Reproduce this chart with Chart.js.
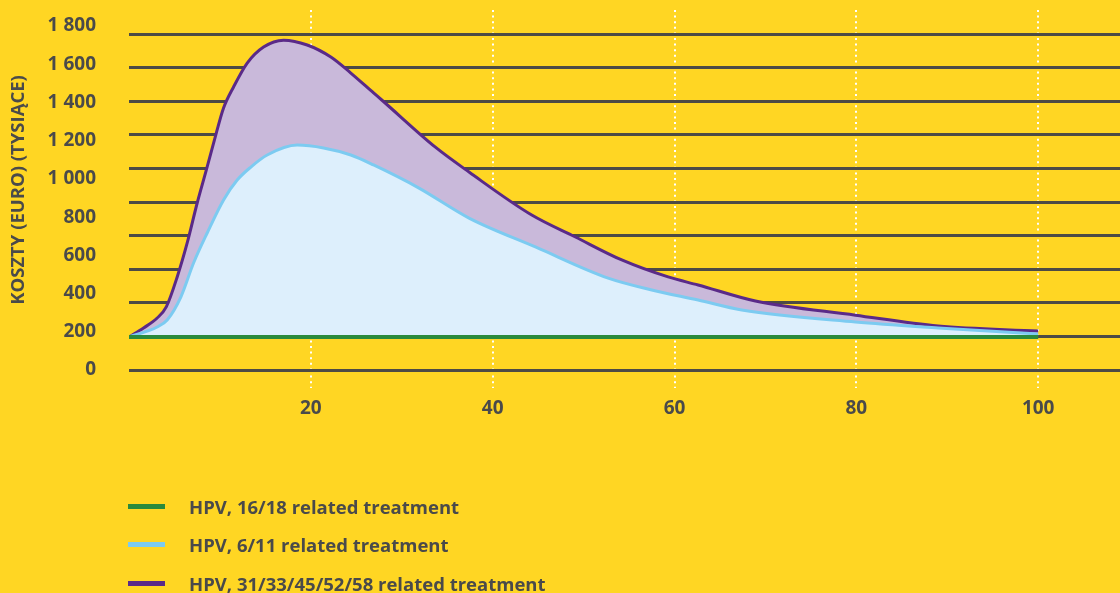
<!DOCTYPE html>
<html>
<head>
<meta charset="utf-8">
<script src="https://cdn.jsdelivr.net/npm/chart.js@4"></script>
<style>
  html, body { margin: 0; padding: 0; background: #FFD623; }
  #wrap { position: relative; width: 1120px; height: 593px; overflow: hidden; }
  #legend { position: absolute; left: 128px; top: 487px; font: 700 18.5px "Open Sans"; color: #4a4a4a; }
  .item { height: 38.5px; display: flex; align-items: center; white-space: nowrap; }
  .swatch { width: 37px; height: 5px; margin-right: 24px; }
</style>
</head>
<body>
<div id="wrap">
  <canvas id="myChart" width="1120" height="593"></canvas>
  <div id="legend"></div>
</div>
<script>
// values (age in years, cost in thousands of euro)
var greenAges = [0, 100];
var hpv1618 = [173, 173];

var blueAges = [0, 3.1, 4.2, 5.7, 7.1, 8.6, 10.4, 11.9, 13.4, 15.2, 18.5, 21.4, 24.4, 26.9, 31.9, 37.4, 44.7, 52.7, 57.5, 62.6, 67.4, 79.9, 89, 100];
var hpv611 = [173, 225, 262, 382, 560, 717, 890, 994, 1062, 1125, 1177, 1162, 1125, 1073, 952, 795, 644, 481, 419, 366, 314, 251, 220, 188];

var purpleAges = [0, 1.6, 3.1, 4.1, 5.3, 6.4, 7.5, 8.5, 9.6, 10.4, 11.5, 13, 14.8, 17, 19.6, 22.2, 24.4, 26.9, 27.8, 33.7, 37.4, 44.3, 49.1, 54.2, 59.3, 62.6, 68.9, 79.9, 89, 100];
var hpvOther = [173, 220, 272, 330, 487, 665, 874, 1046, 1240, 1371, 1481, 1606, 1690, 1726, 1701, 1638, 1554, 1450, 1413, 1166, 1036, 811, 696, 576, 487, 445, 361, 287, 230, 204];

var labels = ['HPV, 16/18 related treatment', 'HPV, 6/11 related treatment', 'HPV, 31/33/45/52/58 related treatment'];
var costTicks = ['0', '200', '400', '600', '800', '1 000', '1 200', '1 400', '1 600', '1 800'];
var ageTicks = [20, 40, 60, 80, 100];

var textColor = '#4a4a4a';

function pts(xs, ys) {
  return xs.map(function (x, i) { return { x: x, y: ys[i] }; });
}

// keep the plot area where the reference has it
function noPad(s) {
  s.paddingTop = 0;
  s.paddingBottom = 0;
}

var ctx = document.getElementById('myChart');
var chart = new Chart(ctx, {
  type: 'line',
  data: {
    datasets: [{
      label: labels[0],
      data: pts(greenAges, hpv1618),
      borderColor: '#2a8a3c',
      borderWidth: 4,
      fill: false
    }, {
      label: labels[1],
      data: pts(blueAges, hpv611),
      borderColor: '#7ccbf1',
      backgroundColor: '#ddeffc',
      borderWidth: 3,
      fill: '-1'
    }, {
      label: labels[2],
      data: pts(purpleAges, hpvOther),
      borderColor: '#5a2a88',
      backgroundColor: '#c9b9da',
      borderWidth: 3,
      fill: '-1'
    }]
  },
  options: {
    responsive: false,
    animation: false,
    layout: { padding: { top: 10, right: 0, bottom: 0, left: 0 } },
    elements: {
      point: { radius: 0 },
      line: { cubicInterpolationMode: 'monotone' }
    },
    plugins: {
      legend: { display: false },
      tooltip: { enabled: false }
    },
    scales: {
      x: {
        type: 'linear',
        min: 0,
        max: 109,
        afterFit: function (s) { s.height = 223; s.paddingLeft = 0; s.paddingRight = 0; },
        ticks: {
          stepSize: 20,
          includeBounds: false,
          padding: 9,
          color: textColor,
          font: { family: 'Open Sans', weight: 'bold', size: 19 },
          callback: function (v) { return ageTicks.indexOf(v) >= 0 ? String(v) : ''; }
        },
        grid: {
          color: function (c) { return c.tick && c.tick.value > 0 ? '#ffffff' : 'rgba(0,0,0,0)'; },
          lineWidth: 2,
          drawTicks: true,
          tickLength: 18,
          tickBorderDash: [2, 3.6]
        },
        border: { display: false, dash: [2, 3.6] }
      },
      y: {
        position: 'left',
        min: 0,
        max: 1884,
        afterFit: function (s) { s.width = 129; noPad(s); },
        title: {
          display: true,
          text: 'KOSZTY (EURO) (TYSIĄCE)',
          color: textColor,
          font: { family: 'Open Sans', weight: 'bold', size: 18.5 },
          padding: { top: 8, bottom: 0 }
        },
        ticks: {
          stepSize: 200,
          includeBounds: false,
          padding: 25,
          color: textColor,
          font: { family: 'Open Sans', weight: 'bold', size: 19 },
          callback: function (v) { return costTicks[v / 200]; }
        },
        grid: { display: false },
        border: { display: false }
      },
      yGrid: {
        position: 'right',
        min: 0,
        max: 2143,
        afterFit: noPad,
        ticks: { display: false, stepSize: 200, includeBounds: false },
        grid: { color: '#4d4b45', lineWidth: 3, drawTicks: false },
        border: { display: false }
      }
    }
  }
});

// html legend built from the datasets
var legend = document.getElementById('legend');
chart.data.datasets.forEach(function (ds) {
  var item = document.createElement('div');
  item.className = 'item';
  var sw = document.createElement('span');
  sw.className = 'swatch';
  sw.style.background = ds.borderColor;
  var tx = document.createElement('span');
  tx.textContent = ds.label;
  item.appendChild(sw);
  item.appendChild(tx);
  legend.appendChild(item);
});
</script>
</body>
</html>
